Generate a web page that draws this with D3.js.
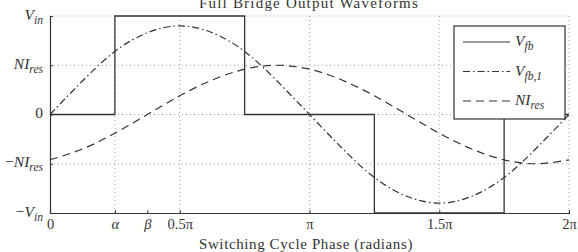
<!DOCTYPE html>
<html>
<head>
<meta charset="utf-8">
<script src="https://cdn.jsdelivr.net/npm/d3@7"></script>
<style>
  body { margin: 0; background: #fff; }
  text { font-family: "Liberation Serif", "DejaVu Serif", serif; fill: #333; }
</style>
</head>
<body>
<div id="chart"></div>
<script>
// phase values are in units of pi
const samplePhase = [0, 0.125, 0.25, 0.375, 0.5, 0.625, 0.75, 0.875, 1,
  1.125, 1.25, 1.375, 1.5, 1.625, 1.75, 1.875, 2];
// fundamental of the bridge voltage (per unit of Vin)
const vfb1Values = [0, 0.34, 0.64, 0.83, 0.9, 0.83, 0.64, 0.34, 0,
  -0.34, -0.64, -0.83, -0.9, -0.83, -0.64, -0.34, 0];
// reflected resonant current (per unit of Vin)
const niresValues = [-0.46, -0.35, -0.19, 0, 0.19, 0.35, 0.46, 0.5, 0.46,
  0.35, 0.19, 0, -0.19, -0.35, -0.46, -0.5, -0.46];
// bridge output voltage: step points
const vfbPhase = [0, 0.25, 0.75, 1.25, 1.75, 2];
const vfbValues = [0, 1, 0, -1, 0, 0];

const xTickPhase = [0, 0.25, 0.375, 0.5, 1, 1.5, 2];
const xTickLabels = ['0', 'α', 'β', '0.5π', 'π', '1.5π', '2π'];
const xGridPhase = [0.25, 0.5, 1, 1.5, 2];
const yTickValues = [-1, -0.5, 0, 0.5, 1];
const yTickLabels = [
  [['−', ''], ['V', 'in']],
  [['−', ''], ['NI', 'res']],
  [['0', '']],
  [['NI', 'res']],
  [['V', 'in']]
];
const legendItems = [
  { main: 'V', sub: 'fb', dash: null },
  { main: 'V', sub: 'fb,1', dash: '7,3,1.5,3' },
  { main: 'NI', sub: 'res', dash: '8,5' }
];

const width = 578, height = 252;
const margin = { left: 50, right: 9, top: 16, bottom: 39 };
const ink = '#333';

const svg = d3.select('#chart').append('svg')
  .attr('width', width)
  .attr('height', height);

const x = d3.scaleLinear()
  .domain([0, 2])
  .range([margin.left, width - margin.right]);
const y = d3.scaleLinear()
  .domain([-1, 1])
  .range([height - margin.bottom, margin.top]);

// dotted grid
svg.append('g').selectAll('line')
  .data(yTickValues.slice(1))
  .enter().append('line')
  .attr('x1', x(0)).attr('x2', x(2))
  .attr('y1', d => y(d)).attr('y2', d => y(d))
  .attr('stroke', '#888').attr('stroke-width', 0.8)
  .attr('stroke-dasharray', '1,3');
svg.append('g').selectAll('line')
  .data(xGridPhase)
  .enter().append('line')
  .attr('x1', d => x(d)).attr('x2', d => x(d))
  .attr('y1', y(-1)).attr('y2', y(1))
  .attr('stroke', '#888').attr('stroke-width', 0.8)
  .attr('stroke-dasharray', '1,3');

// title (partly clipped at the top, as in the source figure)
svg.append('text')
  .attr('x', 309).attr('y', 8)
  .attr('text-anchor', 'middle')
  .attr('font-size', 15)
  .attr('letter-spacing', 1.2)
  .text('Full Bridge Output Waveforms');

// x label
svg.append('text')
  .attr('x', 306).attr('y', 249)
  .attr('text-anchor', 'middle')
  .attr('font-size', 15)
  .attr('letter-spacing', 0.6)
  .text('Switching Cycle Phase (radians)');

// axes
const xAxis = svg.append('g')
  .attr('transform', `translate(0,${y(-1)})`)
  .call(d3.axisBottom(x).tickValues(xTickPhase).tickSize(-3).tickPadding(6)
    .tickFormat((d, i) => xTickLabels[i]));
xAxis.select('.domain').attr('stroke', ink).attr('stroke-width', 1.2);
xAxis.selectAll('.tick line').attr('stroke', ink);
xAxis.selectAll('.tick text')
  .attr('font-family', '"Liberation Serif", serif')
  .attr('font-size', 14.5)
  .attr('fill', ink)
  .attr('font-style', (d, i) => (i === 1 || i === 2) ? 'italic' : null);

const yAxis = svg.append('g')
  .attr('transform', `translate(${x(0)},0)`)
  .call(d3.axisLeft(y).tickValues(yTickValues).tickSize(-3).tickPadding(7)
    .tickFormat(''));
yAxis.select('.domain').attr('stroke', ink).attr('stroke-width', 1.2);
yAxis.selectAll('.tick line').attr('stroke', ink);
yAxis.selectAll('.tick text').each(function(d, i) {
  const t = d3.select(this)
    .attr('font-family', '"Liberation Serif", serif')
    .attr('font-size', 15.5)
    .attr('fill', ink)
    .attr('dy', '0.2em');
  yTickLabels[i].forEach(([main, sub]) => {
    const isMath = main !== '−' && main !== '0';
    t.append('tspan').attr('font-style', isMath ? 'italic' : null).text(main);
    if (sub) {
      t.append('tspan').attr('font-style', 'italic').attr('font-size', 11.5)
        .attr('dy', '0.35em').text(sub);
      t.append('tspan').attr('dy', '-0.35em').text('');
    }
  });
});

// curves
const smooth = d3.line()
  .x(d => x(d[0]))
  .y(d => y(d[1]))
  .curve(d3.curveNatural);
const step = d3.line()
  .x(d => x(d[0]))
  .y(d => y(d[1]))
  .curve(d3.curveStepAfter);

svg.append('path')
  .datum(samplePhase.map((p, i) => [p, niresValues[i]]))
  .attr('d', smooth)
  .attr('fill', 'none').attr('stroke', ink).attr('stroke-width', 1.2)
  .attr('stroke-dasharray', '8,5');
svg.append('path')
  .datum(samplePhase.map((p, i) => [p, vfb1Values[i]]))
  .attr('d', smooth)
  .attr('fill', 'none').attr('stroke', ink).attr('stroke-width', 1.2)
  .attr('stroke-dasharray', '7,3,1.5,3');
svg.append('path')
  .datum(vfbPhase.map((p, i) => [p, vfbValues[i]]))
  .attr('d', step)
  .attr('fill', 'none').attr('stroke', ink).attr('stroke-width', 1.3);

// legend
const legend = svg.append('g').attr('transform', 'translate(454,26)');
legend.append('rect')
  .attr('width', 111).attr('height', 93)
  .attr('fill', '#fff').attr('stroke', ink).attr('stroke-width', 1.2);
const entry = legend.selectAll('.entry')
  .data(legendItems)
  .enter().append('g')
  .attr('class', 'entry')
  .attr('transform', (d, i) => `translate(0,${16 + i * 29.5})`);
entry.append('line')
  .attr('x1', 9).attr('x2', 56)
  .attr('stroke', ink).attr('stroke-width', 1.2)
  .attr('stroke-dasharray', d => d.dash);
entry.append('text')
  .attr('x', 61).attr('y', 4)
  .attr('font-size', 15.5)
  .attr('font-style', 'italic')
  .each(function(d) {
    const t = d3.select(this);
    t.append('tspan').text(d.main);
    t.append('tspan').attr('font-size', 11.5).attr('dy', '0.35em').text(d.sub);
  });
</script>
</body>
</html>
